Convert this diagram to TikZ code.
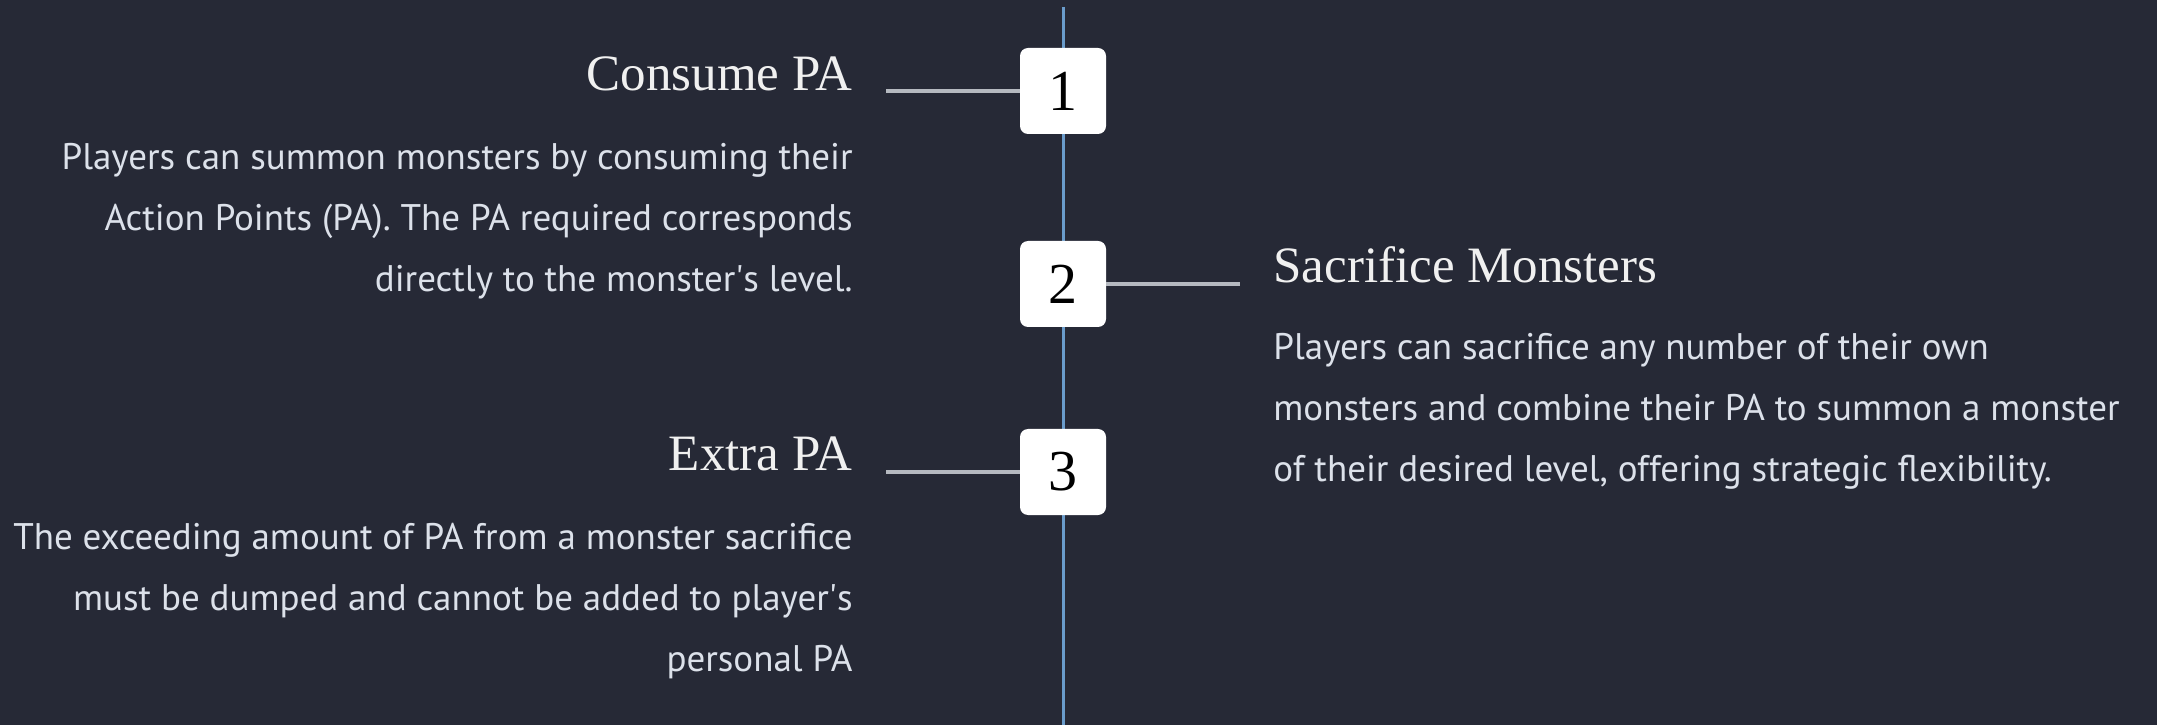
\documentclass[tikz,border=0pt]{standalone}
\usepackage{fontspec}
\setmainfont{PT Sans}
\newfontfamily\headfont{Liberation Serif}
\definecolor{bg}{HTML}{262936}
\definecolor{spinecol}{HTML}{6A9CCB}
\definecolor{wirecol}{HTML}{B5B9C0}
\definecolor{desccol}{HTML}{DCE1EA}
\tikzset{
  stepnum/.style={fill=white, rounded corners=4pt, minimum size=43pt, inner sep=0pt,
    text=black, font=\headfont\fontsize{29}{29}\selectfont},
  title/.style={inner sep=0pt, text=white!94!black, font=\headfont\fontsize{25.5}{28}\selectfont},
  desc/.style={inner sep=0pt, text=desccol, font=\fontsize{18.5}{30.5}\selectfont},
  wire/.style={draw=wirecol, line width=2pt},
}
\begin{document}
\begin{tikzpicture}[x=0.5pt, y=-0.5pt]
\fill[bg] (0,0) rectangle (2157,725);
\coordinate (top) at (1063,7);
\coordinate (bottom) at (1063,725);
\draw[spinecol, line width=1.5pt] (top) -- (bottom);
\node[stepnum] (n1) at (1063,91) {1};
\node[stepnum] (n2) at (1063,284) {2};
\node[stepnum] (n3) at (1063,472) {3};
\coordinate (w1) at (886,91);
\coordinate (w2) at (1240,284);
\coordinate (w3) at (886,472);
\draw[wire] (n1.west) -- (w1);
\draw[wire] (n2.east) -- (w2);
\draw[wire] (n3.west) -- (w3);
\node[title, anchor=base east] (t1) at (853,91) {Consume PA};
\node[desc, anchor=base east, align=right] (d1) at (853,292)
  {Players can summon monsters by consuming their\\Action Points (PA). The PA required corresponds\\directly to the monster\textquotesingle s level.};
\node[title, anchor=base west] (t2) at (1273,283) {Sacrifice Monsters};
\node[desc, anchor=base west, align=left] (d2) at (1273,481)
  {Players can sacrifice any number of their own\\monsters and combine their PA to summon a monster\\of their desired level, offering strategic flexibility.};
\node[title, anchor=base east] (t3) at (853,470) {Extra PA};
\node[desc, anchor=base east, align=right] (d3) at (853,671)
  {The exceeding amount of PA from a monster sacrifice\\must be dumped and cannot be added to player\textquotesingle s\\personal PA};
\end{tikzpicture}
\end{document}
